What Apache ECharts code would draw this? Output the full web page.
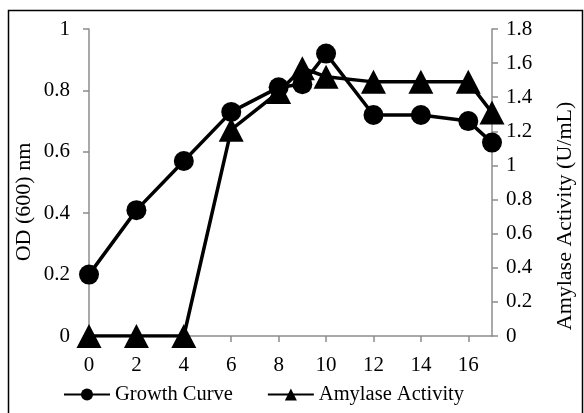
<!DOCTYPE html>
<html>
<head>
<meta charset="utf-8">
<script src="https://cdn.jsdelivr.net/npm/echarts@6/dist/echarts.min.js"></script>
<style>
  html, body { margin: 0; padding: 0; background: #fff; }
  #chart { width: 584px; height: 413px; }
</style>
</head>
<body>
<div id="chart"></div>
<script>
// Sampling times (h)
const hours = [0, 2, 4, 6, 8, 9, 10, 12, 14, 16, 17];
// Optical density at 600 nm
const growthOD = [0.20, 0.41, 0.57, 0.73, 0.81, 0.82, 0.92, 0.72, 0.72, 0.70, 0.63];
// Amylase activity (U/mL)
const amylase = [0, 0, 0, 1.21, 1.43, 1.57, 1.52, 1.49, 1.49, 1.49, 1.31];

const seriesNames = ['Growth Curve', 'Amylase Activity'];
const leftTitle = 'OD (600) nm';
const rightTitle = 'Amylase Activity (U/mL)';

const FONT = 'Liberation Serif';
const AXIS_GREY = '#8c8c8c';

const pairs = (xs, ys) => xs.map((x, i) => [x, ys[i]]);

const chart = echarts.init(document.getElementById('chart'), null, { renderer: 'canvas' });

const labelStyle = { color: '#000', fontFamily: FONT, fontSize: 21 };
const valueAxisBase = {
  type: 'value',
  splitLine: { show: false },
  axisLine: { show: true, lineStyle: { color: AXIS_GREY, width: 1.5 } },
  axisTick: { show: true, length: 6, lineStyle: { color: AXIS_GREY, width: 1.5 } }
};

chart.setOption({
  animation: false,
  backgroundColor: '#fff',
  textStyle: { fontFamily: FONT },
  grid: { left: 89, right: 92, top: 29, bottom: 77, containLabel: false },
  xAxis: Object.assign({}, valueAxisBase, {
    min: 0, max: 17, interval: 2,
    axisLabel: Object.assign({}, labelStyle, { margin: 19, showMaxLabel: false })
  }),
  yAxis: [
    Object.assign({}, valueAxisBase, {
      position: 'left', min: 0, max: 1, interval: 0.2,
      axisLabel: Object.assign({}, labelStyle, { margin: 19 })
    }),
    Object.assign({}, valueAxisBase, {
      position: 'right', min: 0, max: 1.8, interval: 0.2,
      axisLabel: Object.assign({}, labelStyle, { margin: 14 })
    })
  ],
  legend: {
    left: 58, top: 379,
    itemWidth: 46, itemHeight: 15, itemGap: 34,
    textStyle: { color: '#000', fontFamily: FONT, fontSize: 20.5 },
    data: seriesNames
  },
  series: [
    {
      name: seriesNames[0], type: 'line', yAxisIndex: 0,
      data: pairs(hours, growthOD),
      symbol: 'circle', symbolSize: 20,
      lineStyle: { color: '#000', width: 3.5 },
      itemStyle: { color: '#000' },
      z: 2
    },
    {
      name: seriesNames[1], type: 'line', yAxisIndex: 1,
      data: pairs(hours, amylase),
      symbol: 'triangle', symbolSize: [25, 24],
      lineStyle: { color: '#000', width: 3.5 },
      itemStyle: { color: '#000' },
      z: 3
    }
  ],
  graphic: [
    {
      type: 'rect', silent: true,
      shape: { x: 8.5, y: 10.5, width: 574, height: 410 },
      style: { fill: 'none', stroke: '#000', lineWidth: 1.5 }
    },
    {
      type: 'text', x: 24, y: 202, rotation: Math.PI / 2,
      style: { text: leftTitle, fontFamily: FONT, fontSize: 22, fill: '#000', align: 'center', verticalAlign: 'middle' }
    },
    {
      type: 'text', x: 565, y: 216, rotation: Math.PI / 2,
      style: { text: rightTitle, fontFamily: FONT, fontSize: 22, fill: '#000', align: 'center', verticalAlign: 'middle' }
    }
  ]
});
</script>
</body>
</html>
